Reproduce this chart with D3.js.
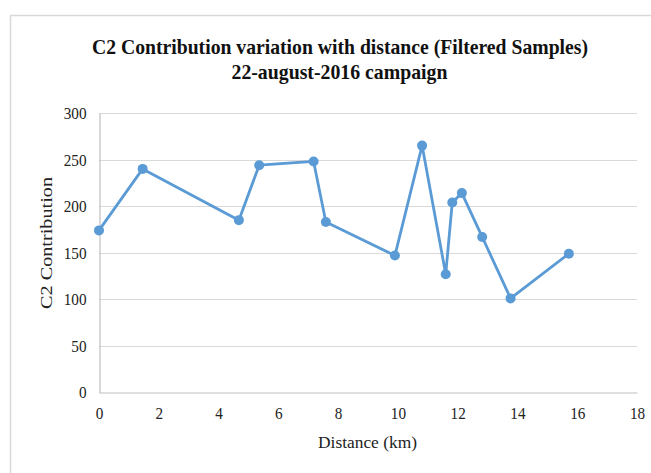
<!DOCTYPE html>
<html><head><meta charset="utf-8">
<script src="https://cdn.jsdelivr.net/npm/d3@7"></script>
<style>body{margin:0;background:#fff}</style>
</head><body>
<svg id="c" width="651" height="473"></svg>
<script>
const distance = [0, 1.46, 4.68, 5.36, 7.18, 7.59, 9.9, 10.81, 11.6, 11.82, 12.14, 12.82, 13.77, 15.72];
const contribution = [174, 240, 185, 244, 248, 183, 147, 265, 127, 204, 214, 167, 101, 149];
const xTicks = [0, 2, 4, 6, 8, 10, 12, 14, 16, 18];
const yTicks = [0, 50, 100, 150, 200, 250, 300];
const titleLines = ["C2 Contribution variation with distance (Filtered Samples)", "22-august-2016 campaign"];
const xLabel = "Distance (km)";
const yLabel = "C2 Contribution";

const svg = d3.select("#c");
const serif = "'Liberation Serif','Times New Roman',serif";
// chart border
svg.append("path").attr("d","M10.5,473 V15.5 H651").attr("fill","none").attr("stroke","#d9d9d9").attr("stroke-width",1.5);

const x = d3.scaleLinear().domain([0,18]).range([99,637]);
const y = d3.scaleLinear().domain([0,300]).range([392.5,113]);

// gridlines
svg.append("g").selectAll("line").data(yTicks.filter(d=>d>0)).join("line")
  .attr("x1",99).attr("x2",637).attr("y1",d=>Math.round(y(d))+0.5).attr("y2",d=>Math.round(y(d))+0.5)
  .attr("stroke","#d9d9d9").attr("stroke-width",1.2);

// axes
const gx = svg.append("g").attr("transform","translate(0,392.5)")
  .call(d3.axisBottom(x).tickValues(xTicks).tickSize(0).tickPadding(14).tickFormat(d3.format("d")));
const gy = svg.append("g").attr("transform","translate(99.5,0)")
  .call(d3.axisLeft(y).tickValues(yTicks).tickSize(0).tickPadding(13).tickFormat(d3.format("d")));
[gx,gy].forEach(g=>{
  g.attr("font-family",serif).attr("font-size",17);
  g.select(".domain").attr("stroke","#bfbfbf").attr("stroke-width",1.2);
  g.selectAll("text").style("font-family",serif).style("font-size","17px").attr("fill","#222")
   .attr("textLength",function(){return this.textContent.length*7.6;}).attr("lengthAdjust","spacingAndGlyphs");
});

// title
svg.append("text").attr("x",340).attr("y",53.5).attr("text-anchor","middle")
  .attr("font-family",serif).attr("font-weight","bold").attr("font-size",21).attr("fill","#111")
  .attr("textLength",496).attr("lengthAdjust","spacingAndGlyphs").text(titleLines[0]);
svg.append("text").attr("x",339.5).attr("y",78.5).attr("text-anchor","middle")
  .attr("font-family",serif).attr("font-weight","bold").attr("font-size",21).attr("fill","#111")
  .attr("textLength",216).attr("lengthAdjust","spacingAndGlyphs").text(titleLines[1]);

// axis titles
svg.append("text").attr("x",367.5).attr("y",448).attr("text-anchor","middle")
  .attr("font-family",serif).attr("font-size",17).attr("fill","#222")
  .attr("textLength",99).attr("lengthAdjust","spacingAndGlyphs").text(xLabel);
svg.append("text").attr("transform","translate(52,243) rotate(-90)").attr("text-anchor","middle")
  .attr("font-family",serif).attr("font-size",17).attr("fill","#222")
  .attr("textLength",132).attr("lengthAdjust","spacingAndGlyphs").text(yLabel);

// line + markers
const pts = distance.map((d,i)=>[d,contribution[i]]);
svg.append("path").datum(pts)
  .attr("d", d3.line().x(d=>x(d[0])).y(d=>y(d[1])))
  .attr("fill","none").attr("stroke","#5b9bd5").attr("stroke-width",2.8).attr("stroke-linejoin","round");
svg.append("g").selectAll("circle").data(pts).join("circle")
  .attr("cx",d=>x(d[0])).attr("cy",d=>y(d[1])).attr("r",5).attr("fill","#5b9bd5");
</script>
</body></html>
